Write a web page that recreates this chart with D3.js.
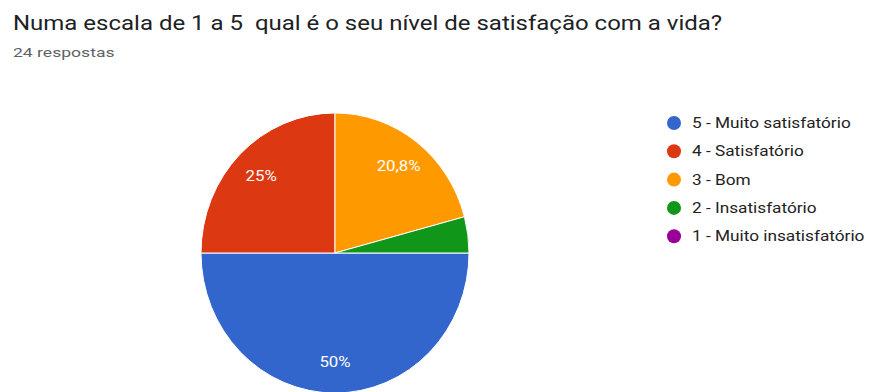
<!DOCTYPE html>
<html>
<head>
<meta charset="utf-8">
<script src="https://cdn.jsdelivr.net/npm/d3@7"></script>
<style>
  html, body { margin: 0; padding: 0; background: #fff; }
  svg { display: block; font-family: Roboto, Arial, sans-serif; }
  text { white-space: pre; }
</style>
</head>
<body>
<svg id="chart" width="869" height="392"></svg>
<script>
// Survey answers: life-satisfaction scale (24 responses)
const title = "Numa escala de 1 a 5  qual é o seu nível de satisfação com a vida?";
const subtitle = "24 respostas";
const categories = ["5 - Muito satisfatório", "4 - Satisfatório", "3 - Bom", "2 - Insatisfatório", "1 - Muito insatisfatório"];
const counts = [12, 6, 5, 1, 0];
const colors = ["#3366cc", "#dc3912", "#ff9900", "#109618", "#990099"];

const svg = d3.select("#chart");

// widen glyph runs horizontally by a factor
function stretch(sel, k) {
  sel.each(function () {
    const w = this.getComputedTextLength();
    d3.select(this).attr("textLength", w * k).attr("lengthAdjust", "spacingAndGlyphs");
  });
}

svg.append("text")
  .attr("x", 13).attr("y", 30)
  .attr("font-size", 20.5)
  .attr("fill", "#202124")
  .text(title)
  .call(stretch, 1.17);

svg.append("text")
  .attr("x", 13).attr("y", 57)
  .attr("font-size", 13.5)
  .attr("fill", "#5f6368")
  .text(subtitle)
  .call(stretch, 1.3);

const cx = 335, cy = 253, R = 134, sy = 1.045; // pie is slightly taller than wide
const total = d3.sum(counts);
const data = categories.map((c, i) => ({ cat: c, value: counts[i], color: colors[i] }));

// slices run clockwise from 3 o'clock
const pie = d3.pie().sort(null).value(d => d.value)
  .startAngle(Math.PI / 2).endAngle(Math.PI / 2 + 2 * Math.PI);
const arcs = pie(data);
const arc = d3.arc().innerRadius(0).outerRadius(R);
const labelArc = d3.arc().innerRadius(R * 0.78).outerRadius(R * 0.78);

svg.append("g")
  .attr("transform", `translate(${cx},${cy}) scale(1,${sy})`)
  .selectAll("path.slice")
  .data(arcs.filter(d => d.data.value > 0))
  .join("path")
  .attr("class", "slice")
  .attr("d", arc)
  .attr("fill", d => d.data.color)
  .attr("stroke", "#fff")
  .attr("stroke-width", 1)
  .attr("vector-effect", "non-scaling-stroke");

const pct = v => {
  const s = d3.format(".1f")(v * 100).replace(/\.0$/, "").replace(".", ",");
  return s + "%";
};

svg.append("g")
  .attr("transform", `translate(${cx},${cy})`)
  .selectAll("text.lbl")
  .data(arcs.filter(d => d.data.value / total >= 0.05))
  .join("text")
  .attr("class", "lbl")
  .attr("transform", d => {
    const [x, y] = labelArc.centroid(d);
    return `translate(${x},${y * sy})`;
  })
  .attr("text-anchor", "middle")
  .attr("dominant-baseline", "central")
  .attr("font-size", 14)
  .attr("fill", "#fff")
  .text(d => pct(d.data.value / total))
  .call(stretch, 1.2);

// legend
const legend = svg.append("g").attr("transform", "translate(674,123)");
const item = legend.selectAll("g.item")
  .data(data)
  .join("g")
  .attr("class", "item")
  .attr("transform", (d, i) => `translate(0,${i * 28.3})`);

item.append("circle")
  .attr("r", 7)
  .attr("fill", d => d.color);

item.append("text")
  .attr("x", 18)
  .attr("dominant-baseline", "central")
  .attr("font-size", 14)
  .attr("fill", "#222")
  .text(d => d.cat)
  .call(stretch, 1.23);
</script>
</body>
</html>
